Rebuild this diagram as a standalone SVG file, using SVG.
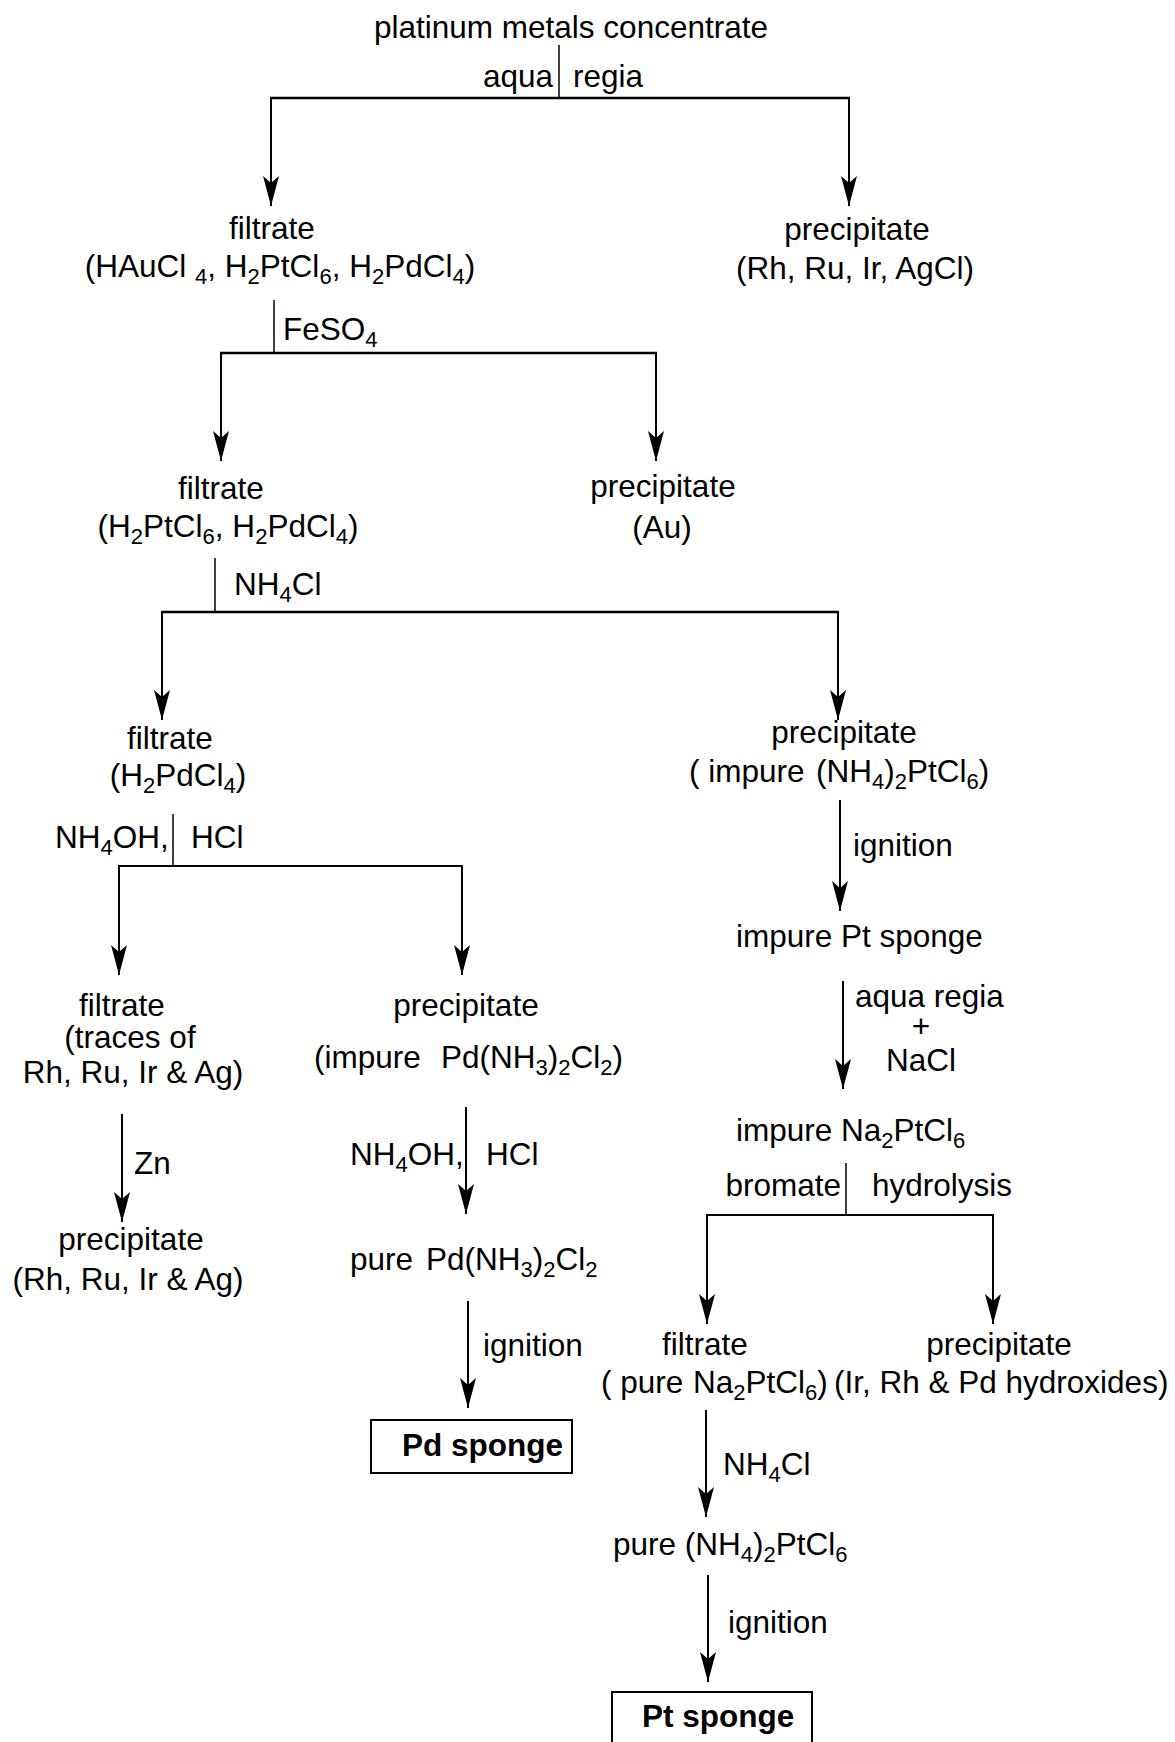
<svg xmlns="http://www.w3.org/2000/svg" width="1175" height="1742" viewBox="0 0 1175 1742">
<style>
text{font-family:"Liberation Sans",Arial,Helvetica,sans-serif;font-size:31.5px;fill:#000}
.m{text-anchor:middle}
.e{text-anchor:end}
.s{font-size:22px}
.b{font-weight:bold}
.ln{stroke:#000;stroke-width:2;fill:none}
.stem{stroke:#000;stroke-width:1.5;fill:none}
.bar{stroke:#000;stroke-width:2.5;fill:none}
.ar{stroke:#000;stroke-width:2;fill:none;marker-end:url(#ah)}
.box{stroke:#000;stroke-width:2;fill:#fff}
</style>
<defs>
<marker id="ah" markerUnits="userSpaceOnUse" markerWidth="34" markerHeight="20" viewBox="-32 -10 34 20" refX="0" refY="0" orient="auto">
<path d="M0,0 L-30,-8 L-23,0 L-30,8 Z" fill="#000"/>
</marker>
</defs>
<rect width="1175" height="1742" fill="#fff"/>

<g id="connectors">
<line class="stem" x1="559" y1="45" x2="559" y2="98"/>
<line class="bar" x1="270" y1="98" x2="850" y2="98"/>
<line class="ar" x1="271" y1="98" x2="271" y2="206"/>
<line class="ar" x1="849" y1="98" x2="849" y2="206"/>
<text class="e" x="553" y="87">aqua</text>
<text x="573" y="87">regia</text>

<line class="stem" x1="274" y1="300" x2="274" y2="353"/>
<line class="bar" x1="220" y1="353" x2="657" y2="353"/>
<line class="ar" x1="221" y1="353" x2="221" y2="461"/>
<line class="ar" x1="656" y1="353" x2="656" y2="461"/>
<text x="283" y="340">FeSO<tspan class="s" dy="7">4</tspan></text>

<line class="stem" x1="215" y1="558" x2="215" y2="612"/>
<line class="bar" x1="161" y1="612" x2="839" y2="612"/>
<line class="ar" x1="162" y1="612" x2="162" y2="720"/>
<line class="ar" x1="838" y1="612" x2="838" y2="720"/>
<text x="234" y="595">NH<tspan class="s" dy="7">4</tspan><tspan dy="-7">Cl</tspan></text>

<line class="stem" x1="173" y1="814" x2="173" y2="866"/>
<line class="ln" x1="118" y1="866" x2="463" y2="866"/>
<line class="ar" x1="119" y1="866" x2="119" y2="975"/>
<line class="ar" x1="462" y1="866" x2="462" y2="975"/>
<text x="55" y="848">NH<tspan class="s" dy="7">4</tspan><tspan dy="-7">OH,</tspan></text>
<text x="191" y="848">HCl</text>

<line class="ar" x1="122" y1="1114" x2="122" y2="1222"/>
<text x="134" y="1174">Zn</text>

<line class="ar" x1="466" y1="1107" x2="466" y2="1214"/>
<text x="350" y="1165">NH<tspan class="s" dy="7">4</tspan><tspan dy="-7">OH,</tspan></text>
<text x="486" y="1165">HCl</text>

<line class="ar" x1="468" y1="1301" x2="468" y2="1408"/>
<text x="483" y="1356">ignition</text>

<line class="ar" x1="840" y1="800" x2="840" y2="911"/>
<text x="853" y="856">ignition</text>

<line class="ar" x1="843" y1="981" x2="843" y2="1089"/>
<text x="855" y="1007">aqua regia</text>
<text class="m" x="921" y="1037">+</text>
<text class="m" x="921" y="1071">NaCl</text>

<line class="stem" x1="846" y1="1163" x2="846" y2="1215"/>
<line class="ln" x1="706" y1="1215" x2="994" y2="1215"/>
<line class="ar" x1="707" y1="1215" x2="707" y2="1324"/>
<line class="ar" x1="993" y1="1215" x2="993" y2="1324"/>
<text class="e" x="841" y="1196">bromate</text>
<text x="872" y="1196">hydrolysis</text>

<line class="ar" x1="706" y1="1410" x2="706" y2="1517"/>
<text x="723" y="1475">NH<tspan class="s" dy="7">4</tspan><tspan dy="-7">Cl</tspan></text>

<line class="ar" x1="708" y1="1575" x2="708" y2="1682"/>
<text x="728" y="1633">ignition</text>
</g>

<g id="n1"><text class="m" x="571" y="38">platinum metals concentrate</text></g>

<g id="n2">
<text class="m" x="272" y="239">filtrate</text>
<text class="m" x="280" y="277">(HAuCl <tspan class="s" dy="7">4</tspan><tspan dy="-7">, H</tspan><tspan class="s" dy="7">2</tspan><tspan dy="-7">PtCl</tspan><tspan class="s" dy="7">6</tspan><tspan dy="-7">, H</tspan><tspan class="s" dy="7">2</tspan><tspan dy="-7">PdCl</tspan><tspan class="s" dy="7">4</tspan><tspan dy="-7">)</tspan></text>
</g>

<g id="n3">
<text class="m" x="857" y="240">precipitate</text>
<text class="m" x="855" y="279">(Rh, Ru, Ir, AgCl)</text>
</g>

<g id="n4">
<text class="m" x="221" y="499">filtrate</text>
<text class="m" x="228" y="537">(H<tspan class="s" dy="7">2</tspan><tspan dy="-7">PtCl</tspan><tspan class="s" dy="7">6</tspan><tspan dy="-7">, H</tspan><tspan class="s" dy="7">2</tspan><tspan dy="-7">PdCl</tspan><tspan class="s" dy="7">4</tspan><tspan dy="-7">)</tspan></text>
</g>

<g id="n5">
<text class="m" x="663" y="497">precipitate</text>
<text class="m" x="662" y="538">(Au)</text>
</g>

<g id="n6">
<text class="m" x="170" y="749">filtrate</text>
<text class="m" x="178" y="786">(H<tspan class="s" dy="7">2</tspan><tspan dy="-7">PdCl</tspan><tspan class="s" dy="7">4</tspan><tspan dy="-7">)</tspan></text>
</g>

<g id="n7">
<text class="m" x="844" y="743">precipitate</text>
<text x="689" y="782">( impure</text>
<text x="816" y="782">(NH<tspan class="s" dy="7">4</tspan><tspan dy="-7">)</tspan><tspan class="s" dy="7">2</tspan><tspan dy="-7">PtCl</tspan><tspan class="s" dy="7">6</tspan><tspan dy="-7">)</tspan></text>
</g>

<g id="n8">
<text class="m" x="122" y="1016">filtrate</text>
<text class="m" x="130" y="1048">(traces of</text>
<text class="m" x="133" y="1083">Rh, Ru, Ir &amp; Ag)</text>
</g>

<g id="n9">
<text class="m" x="466" y="1016">precipitate</text>
<text x="314" y="1068">(impure</text>
<text x="441" y="1068">Pd(NH<tspan class="s" dy="7">3</tspan><tspan dy="-7">)</tspan><tspan class="s" dy="7">2</tspan><tspan dy="-7">Cl</tspan><tspan class="s" dy="7">2</tspan><tspan dy="-7">)</tspan></text>
</g>

<g id="n10">
<text class="m" x="131" y="1250">precipitate</text>
<text class="m" x="128" y="1290">(Rh, Ru, Ir &amp; Ag)</text>
</g>

<g id="n11">
<text x="350" y="1270">pure</text>
<text x="426" y="1270">Pd(NH<tspan class="s" dy="7">3</tspan><tspan dy="-7">)</tspan><tspan class="s" dy="7">2</tspan><tspan dy="-7">Cl</tspan><tspan class="s" dy="7">2</tspan></text>
</g>

<g id="n12">
<rect class="box" x="371" y="1420" width="201" height="53"/>
<text class="b" x="402" y="1456">Pd sponge</text>
</g>

<g id="n13"><text x="736" y="947">impure Pt sponge</text></g>

<g id="n14"><text x="736" y="1141">impure Na<tspan class="s" dy="7">2</tspan><tspan dy="-7">PtCl</tspan><tspan class="s" dy="7">6</tspan></text></g>

<g id="n15">
<text class="m" x="705" y="1355">filtrate</text>
<text x="601" y="1393">( pure</text>
<text x="693" y="1393">Na<tspan class="s" dy="7">2</tspan><tspan dy="-7">PtCl</tspan><tspan class="s" dy="7">6</tspan><tspan dy="-7">)</tspan></text>
</g>

<g id="n16">
<text class="m" x="999" y="1355">precipitate</text>
<text x="834" y="1393">(Ir, Rh &amp; Pd hydroxides)</text>
</g>

<g id="n17"><text x="613" y="1555">pure (NH<tspan class="s" dy="7">4</tspan><tspan dy="-7">)</tspan><tspan class="s" dy="7">2</tspan><tspan dy="-7">PtCl</tspan><tspan class="s" dy="7">6</tspan></text></g>

<g id="n18">
<rect class="box" x="612" y="1692" width="200" height="70"/>
<text class="b" x="642" y="1727">Pt sponge</text>
</g>
</svg>
